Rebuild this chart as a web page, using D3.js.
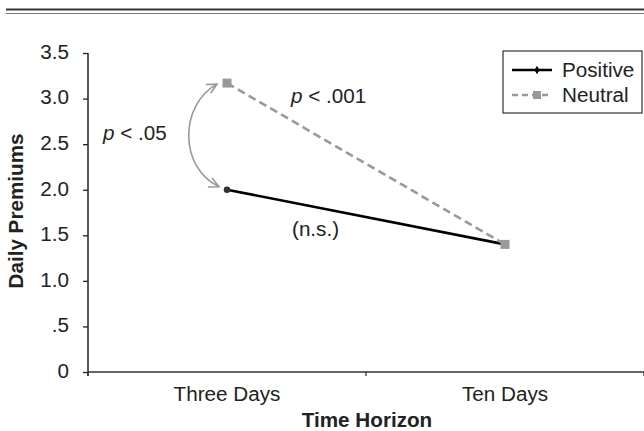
<!DOCTYPE html>
<html><head><meta charset="utf-8">
<script src="https://cdn.jsdelivr.net/npm/d3@7"></script>
<style>
body{margin:0;background:#fff;}
text{font-family:"Liberation Sans",Arial,sans-serif;fill:#222;}
</style></head>
<body>
<svg id="c" width="644" height="431"></svg>
<script>
const categories = ["Three Days", "Ten Days"];
const positiveValues = [2.0, 1.4];
const neutralValues = [3.17, 1.4];
const yTickValues = [0, 0.5, 1.0, 1.5, 2.0, 2.5, 3.0, 3.5];
const yTickLabels = ["0", ".5", "1.0", "1.5", "2.0", "2.5", "3.0", "3.5"];
const seriesNames = ["Positive", "Neutral"];

const svg = d3.select("#c");
const SX = 1.06;
const FS = 19.5;

// top double rule
svg.append("line").attr("x1",6).attr("x2",644).attr("y1",9.5).attr("y2",9.5).attr("stroke","#333").attr("stroke-width",2);
svg.append("line").attr("x1",6).attr("x2",644).attr("y1",13.5).attr("y2",13.5).attr("stroke","#777").attr("stroke-width",1);

const x = d3.scaleBand().domain(categories).range([88, 644]).padding(0);
const y = d3.scaleLinear().domain([0, 3.5]).range([372, 53]);

function label(g, tx, ty, str, opts={}) {
  const gg = g.append("g").attr("transform", `translate(${tx},${ty})` + (opts.rotate ? ` rotate(${opts.rotate})` : ""));
  const t = gg.append("text").attr("transform", `scale(${SX},1)`)
    .attr("font-size", opts.size || FS)
    .attr("text-anchor", opts.anchor || "start")
    .attr("font-weight", opts.bold ? "bold" : "normal");
  if (opts.dy) t.attr("dy", opts.dy);
  if (opts.italicP) {
    t.append("tspan").attr("font-style","italic").text("p");
    t.append("tspan").text(str);
  } else t.text(str);
  return t;
}

// Y axis
const yAxis = d3.axisLeft(y).tickValues(yTickValues).tickFormat((d,i)=>yTickLabels[i]).tickSize(5).tickPadding(0);
const gy = svg.append("g").attr("transform","translate(88,0)").call(yAxis);
gy.select(".domain").attr("stroke","#222").attr("stroke-width",1.5).attr("d","M0,53V376");
gy.selectAll(".tick line").attr("stroke","#222").attr("stroke-width",1.3);
gy.selectAll(".tick text").remove();
yTickValues.forEach((v,i)=>{
  label(svg, 69, y(v), yTickLabels[i], {anchor:"end", dy:"0.3em"});
});

// X axis
const gx = svg.append("g").attr("transform","translate(0,372)")
  .call(d3.axisBottom(x).tickSize(0).tickFormat(""));
gx.select(".domain").attr("stroke","#333").attr("stroke-width",1.5).attr("d","M88,0H644");
const bounds = categories.map(c=>x(c)).concat([x(categories[1])+x.bandwidth()]);
bounds.forEach(b=>{
  svg.append("line").attr("x1",b).attr("x2",b).attr("y1",372).attr("y2",376).attr("stroke","#333").attr("stroke-width",1.3);
});
categories.forEach(c=>{
  label(svg, x(c)+x.bandwidth()/2, 401, c, {anchor:"middle"});
});

// axis titles
label(svg, 367, 427, "Time Horizon", {anchor:"middle", bold:true});
label(svg, 23, 211, "Daily Premiums", {anchor:"middle", bold:true, rotate:-90});

const cx = c => x(c) + x.bandwidth()/2;
const lineGen = d3.line().x(d=>cx(d.c)).y(d=>y(d.v));
const posData = categories.map((c,i)=>({c, v: positiveValues[i]}));
const neuData = categories.map((c,i)=>({c, v: neutralValues[i]}));

svg.append("path").datum(posData).attr("d", lineGen).attr("fill","none").attr("stroke","#000").attr("stroke-width",2.6);
svg.append("path").datum(neuData).attr("d", lineGen).attr("fill","none").attr("stroke","#999").attr("stroke-width",2.6).attr("stroke-dasharray","8,4.5");

svg.selectAll(".pm").data(posData).enter().append("path")
  .attr("transform", d=>`translate(${cx(d.c)},${y(d.v)})`)
  .attr("d", d3.symbol(d3.symbolCircle, 34)).attr("fill","#333");
svg.selectAll(".nm").data(neuData).enter().append("rect")
  .attr("x", d=>cx(d.c)-4.5).attr("y", d=>y(d.v)-4.5).attr("width",9).attr("height",9).attr("fill","#999");

// curved double arrow
const defs = svg.append("defs");
defs.append("marker").attr("id","ah").attr("viewBox","0 0 12 12").attr("refX",11).attr("refY",6)
  .attr("markerWidth",12).attr("markerHeight",12).attr("markerUnits","userSpaceOnUse").attr("orient","auto-start-reverse")
  .append("path").attr("d","M1,1 L11,6 L1,11").attr("fill","none").attr("stroke","#999").attr("stroke-width",1.6);
const ax = cx(categories[0]);
const yTop = y(neutralValues[0]), yBot = y(positiveValues[0]);
svg.append("path")
  .attr("d", `M${ax-8},${yBot-3} C${ax-48},${yBot-22} ${ax-48},${yTop+22} ${ax-10},${yTop+1}`)
  .attr("fill","none").attr("stroke","#999").attr("stroke-width",1.6)
  .attr("marker-start","url(#ah)").attr("marker-end","url(#ah)");

// annotations
label(svg, 103, 140, " < .05", {italicP:true});
label(svg, 291, 103, " < .001", {italicP:true});
label(svg, 292, 236, "(n.s.)");

// legend
const lg = svg.append("g");
lg.append("rect").attr("x",503).attr("y",51).attr("width",139).attr("height",62).attr("fill","#fff").attr("stroke","#333").attr("stroke-width",1.2);
lg.append("line").attr("x1",512).attr("x2",552).attr("y1",70).attr("y2",70).attr("stroke","#000").attr("stroke-width",2.6);
lg.append("path").attr("transform","translate(537,70)").attr("d", d3.symbol(d3.symbolDiamond, 22)).attr("fill","#000");
lg.append("line").attr("x1",512).attr("x2",552).attr("y1",95).attr("y2",95).attr("stroke","#999").attr("stroke-width",2.6).attr("stroke-dasharray","6,4");
lg.append("rect").attr("x",533).attr("y",91).attr("width",8).attr("height",8).attr("fill","#999");
label(lg, 562, 77, seriesNames[0]);
label(lg, 562, 102, seriesNames[1]);
</script>
</body></html>
